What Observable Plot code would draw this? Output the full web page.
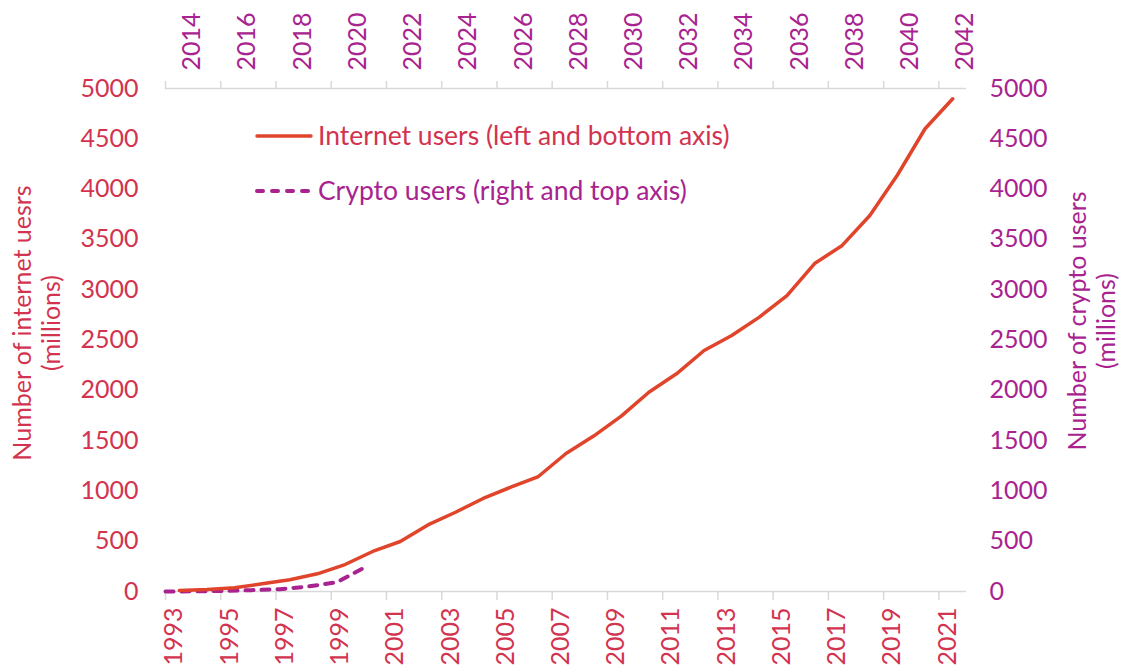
<!DOCTYPE html>
<html>
<head>
<meta charset="utf-8">
<script src="https://cdn.jsdelivr.net/npm/d3@7"></script>
<script src="https://cdn.jsdelivr.net/npm/@observablehq/plot@0.6"></script>
<style>
  body { margin: 0; background: #fff; }
  #wrap { position: relative; width: 1121px; height: 672px; font-family: Lato, "Noto Sans", sans-serif; }
  #legend { position: absolute; left: 255px; top: 108px; font-size: 26.5px; line-height: 55px; }
  #legend div { display: flex; align-items: center; white-space: nowrap; }
  #legend svg { margin-right: 5px; }
</style>
</head>
<body>
<div id="wrap"></div>
<script>
// ---- data ----
const internetYears = [1993,1994,1995,1996,1997,1998,1999,2000,2001,2002,2003,2004,2005,2006,2007,2008,2009,2010,2011,2012,2013,2014,2015,2016,2017,2018,2019,2020,2021];
const internetUsers = [10,20,37,76,116,176,268,398,497,662,788,925,1037,1143,1372,1545,1743,1981,2164,2396,2545,2727,2942,3260,3440,3737,4140,4600,4898];
const cryptoYears = [2014,2015,2016,2017,2018,2019,2020,2021];
const cryptoUsers = [0,2,5,13,23,50,93,245];
const bottomTickLabels = [1993,1995,1997,1999,2001,2003,2005,2007,2009,2011,2013,2015,2017,2019,2021];
const topTickLabels = [2014,2016,2018,2020,2022,2024,2026,2028,2030,2032,2034,2036,2038,2040,2042];
const yTicks = [0,500,1000,1500,2000,2500,3000,3500,4000,4500,5000];

const RED_TEXT = "#d2334f", RED_LINE = "#e0442b", PURPLE = "#a8238f", GRID = "#d9d9d9";
const FONT = "Lato, 'Noto Sans', sans-serif";

// secondary (top) category axis: 29 categories plotted on tick marks
const nCat = internetYears.length;
const topStart = topTickLabels[0];
const cryptoX = y => internetYears[0] - 0.5 + (y - topStart) * nCat / (nCat - 1);
// top labels share the positions of the bottom labels
const topLabelX = y => internetYears[0] + (y - topStart);

const internet = internetYears.map((year, i) => ({year, v: internetUsers[i]}));
const crypto = cryptoYears.map((year, i) => ({x: cryptoX(year), v: cryptoUsers[i]}));
const boundaries = bottomTickLabels.map(y => y - 0.5);

const chart = Plot.plot({
  width: 1121,
  height: 672,
  marginLeft: 165,
  marginRight: 155,
  marginTop: 88,
  marginBottom: 81,
  style: {fontFamily: FONT, fontSize: "25px", background: "white"},
  x: {type: "linear", domain: [internetYears[0] - 0.5, internetYears[nCat - 1] + 0.5], axis: null},
  y: {domain: [0, 5000], axis: null},
  marks: [
    Plot.ruleY([0, 5000], {stroke: GRID, strokeWidth: 1.5}),
    Plot.axisX({anchor: "bottom", ticks: boundaries, tickFormat: () => "", tickSize: 9, stroke: GRID, strokeWidth: 1.5, label: null}),
    Plot.axisX({anchor: "top", ticks: boundaries, tickFormat: () => "", tickSize: 8, stroke: GRID, strokeWidth: 1.5, label: null}),
    Plot.text(bottomTickLabels, {x: d => d, frameAnchor: "bottom", dy: 16, dx: 3, rotate: -90, textAnchor: "end", text: d => String(d), fill: RED_TEXT, fontSize: 25}),
    Plot.text(topTickLabels, {x: d => topLabelX(d), frameAnchor: "top", dy: -18, dx: 3, rotate: -90, textAnchor: "start", text: d => String(d), fill: PURPLE, fontSize: 25}),
    Plot.axisY({anchor: "left", ticks: yTicks, tickSize: 0, tickPadding: 27, tickFormat: d => String(d), color: RED_TEXT, label: null, fontSize: 25}),
    Plot.axisY({anchor: "right", ticks: yTicks, tickSize: 0, tickPadding: 23, tickFormat: d => String(d), color: PURPLE, label: null, fontSize: 25}),
    Plot.text(["Number of internet uesrs\n(millions)"], {frameAnchor: "left", dx: -129, dy: -17, rotate: -90, textAnchor: "middle", fill: RED_TEXT, fontSize: 25, lineHeight: 1.15}),
    Plot.text(["Number of crypto users\n(millions)"], {frameAnchor: "right", dx: 125, dy: -19, rotate: -90, textAnchor: "middle", fill: PURPLE, fontSize: 25, lineHeight: 1.15}),
    Plot.line(crypto, {x: "x", y: "v", stroke: PURPLE, strokeWidth: 4, strokeDasharray: "8,8", strokeLinecap: "round"}),
    Plot.line(internet, {x: "year", y: "v", stroke: RED_LINE, strokeWidth: 3.5})
  ]
});

const wrap = document.getElementById("wrap");
wrap.appendChild(chart);

const legend = document.createElement("div");
legend.id = "legend";
legend.innerHTML = `
  <div><svg width="58" height="10"><line x1="2" y1="5" x2="56" y2="5" stroke="${RED_LINE}" stroke-width="3.5" stroke-linecap="round"/></svg><span style="color:${RED_TEXT}">Internet users (left and bottom axis)</span></div>
  <div><svg width="58" height="10"><line x1="2" y1="5" x2="56" y2="5" stroke="${PURPLE}" stroke-width="4" stroke-dasharray="6,9" stroke-linecap="round"/></svg><span style="color:${PURPLE}">Crypto users (right and top axis)</span></div>`;
wrap.appendChild(legend);
</script>
</body>
</html>
